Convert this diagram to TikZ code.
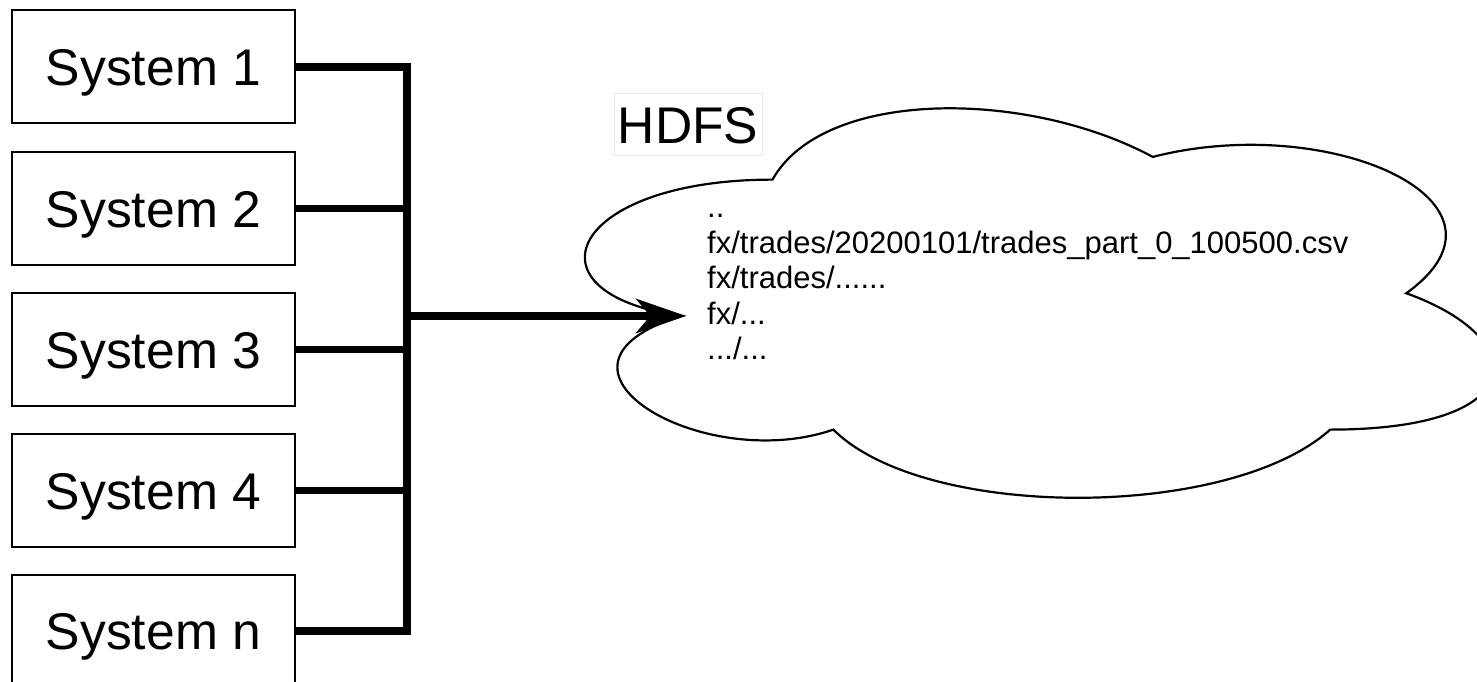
\documentclass[tikz,border=0pt]{standalone}
\usepackage{fontspec}
\setmainfont{Liberation Sans}
\usetikzlibrary{arrows.meta}
\begin{document}
\begin{tikzpicture}[x=1pt,y=-1pt,
  sysbox/.style={draw=black, line width=2pt, fill=white, minimum width=283pt, minimum height=113pt, inner sep=0pt, text height=37pt, text depth=0pt, font=\fontsize{51.6}{60}\selectfont},
  conn/.style={line width=7.5pt},
  flow/.style={conn, -{Stealth[length=50pt,width=34pt,inset=14pt]}},
  cloudline/.style={line width=2.2pt},
  filetext/.style={anchor=north west, align=left, inner sep=0pt, font=\fontsize{31}{35.5}\selectfont},
  title/.style={draw=black!8, fill=white, inner sep=0pt, minimum width=148pt, minimum height=62pt, text height=37pt, text depth=0pt, font=\fontsize{51.6}{60}\selectfont}
  ]
\useasboundingbox (0,0) rectangle (1477,682);
\clip (0,0) rectangle (1477,682);

% systems
\node[sysbox] (s1) at (153.5,67) {System 1};
\node[sysbox] (s2) at (153.5,208.5) {System 2};
\node[sysbox] (s3) at (153.5,349.5) {System 3};
\node[sysbox] (s4) at (153.5,490.5) {System 4};
\node[sysbox] (sn) at (153.5,631) {System n};

% cloud
\begin{scope}[shift={(519,66)},x=1014pt,y=-454.5pt]
\draw[cloudline] (0.25,0.25) .. controls (0.05,0.25) and (0,0.5) .. (0.16,0.55)
  .. controls (0,0.66) and (0.18,0.9) .. (0.31,0.8)
  .. controls (0.4,1) and (0.7,1) .. (0.8,0.8)
  .. controls (1,0.8) and (1,0.6) .. (0.875,0.5)
  .. controls (1,0.3) and (0.8,0.1) .. (0.625,0.2)
  .. controls (0.5,0.05) and (0.3,0.05) .. (0.25,0.25) -- cycle;
\coordinate (cusp) at (0.16,0.55);
\end{scope}

\node[title] (hdfs) at (688,124.5) {HDFS};
\node[filetext] (files) at (707,214) {..\\fx/trades/20200101/trades\_part\_0\_100500.csv\\fx/trades/......\\fx/...\\.../...};

% bus
\coordinate (bus) at (407,0);
\draw[conn] (s1.east) -- (s1.east -| bus) -- (sn.east -| bus) -- (sn.east);
\draw[conn] (s2.east) -- (s2.east -| bus);
\draw[conn] (s3.east) -- (s3.east -| bus);
\draw[conn] (s4.east) -- (s4.east -| bus);
\draw[flow] (bus |- cusp) -- ([xshift=5pt]cusp);
\end{tikzpicture}
\end{document}
